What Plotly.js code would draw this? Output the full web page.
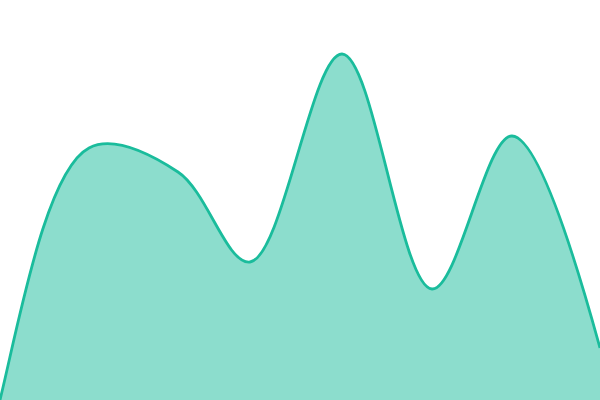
<!DOCTYPE html>
<html>
<head>
<meta charset="utf-8">
<script src="https://cdn.plot.ly/plotly-3.0.1.min.js"></script>
<style>
  html, body { margin: 0; padding: 0; background: #fff; }
  #chart { width: 600px; height: 400px; }
</style>
</head>
<body>
<div id="chart"></div>
<script>
// positions along the x axis and heights of the area
// (the first point lies just left of the visible range)
const xs = [-30, 0, 89, 178, 250, 342, 432, 512, 600];
const values = [-220, 0, 252, 228, 138, 346, 111, 264, 52];

const trace = {
  x: xs,
  y: values,
  type: 'scatter',
  mode: 'lines',
  fill: 'tozeroy',
  fillcolor: 'rgba(26, 188, 156, 0.5)',
  line: { color: '#1abc9c', width: 2.8, shape: 'spline', smoothing: 1 },
  hoverinfo: 'none'
};

Plotly.newPlot('chart', [trace], {
  width: 600,
  height: 400,
  margin: { l: 0, r: 0, t: 0, b: 0 },
  showlegend: false,
  paper_bgcolor: '#fff',
  plot_bgcolor: '#fff',
  xaxis: { range: [0, 600], visible: false, fixedrange: true },
  yaxis: { range: [0, 400], visible: false, fixedrange: true }
}, { displayModeBar: false, staticPlot: true });
</script>
</body>
</html>
